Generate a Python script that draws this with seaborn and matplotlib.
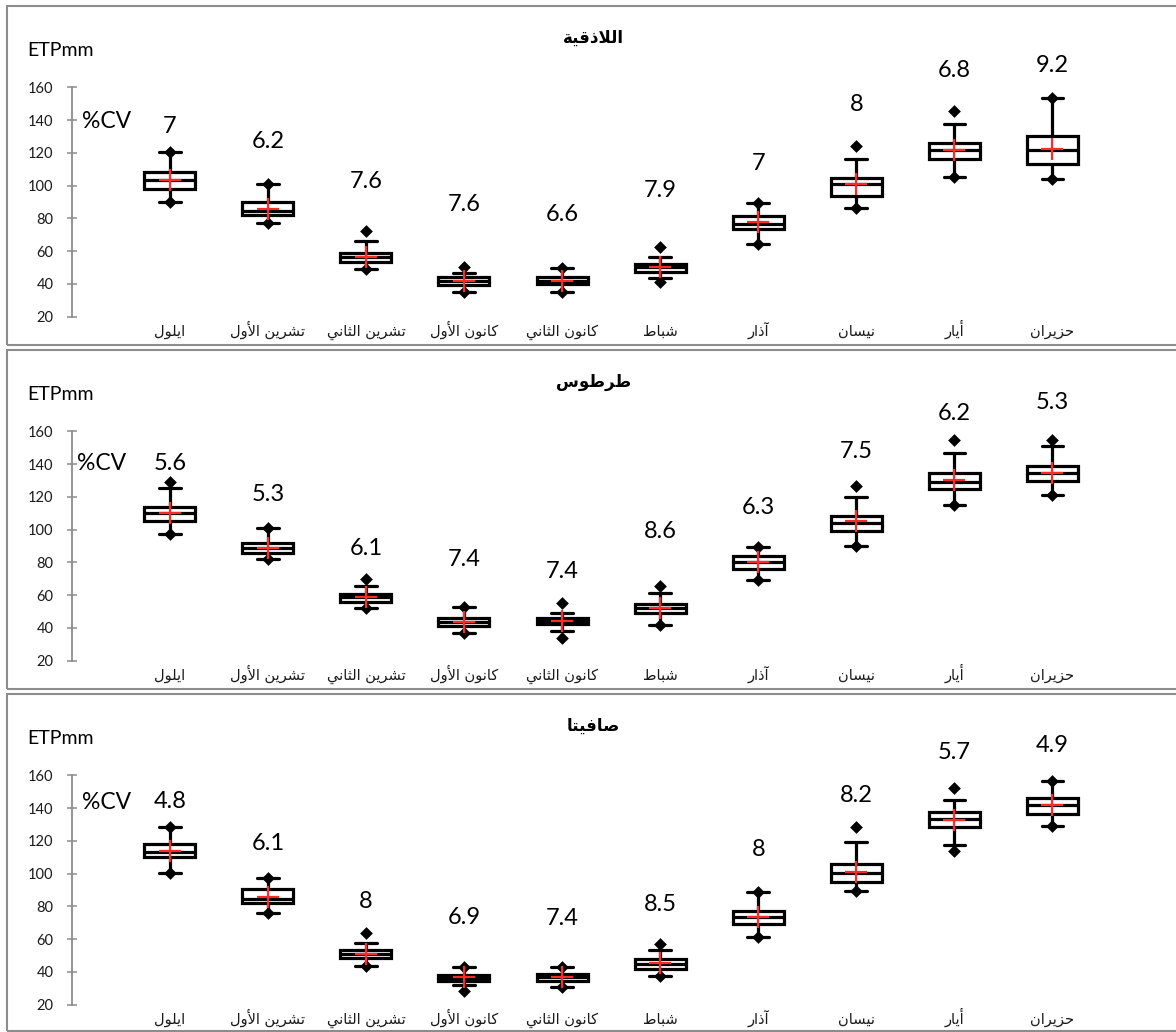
import numpy as np
import pandas as pd
import matplotlib
matplotlib.use("Agg")
import matplotlib.pyplot as plt
import seaborn as sns
from matplotlib.patches import Rectangle

# ---------------------------------------------------------------- data
months = ["ايلول", "تشرين الأول", "تشرين الثاني", "كانون الأول", "كانون الثاني",
          "شباط", "آذار", "نيسان", "أيار", "حزيران"]
stations = ["اللاذقية", "طرطوس", "صافيتا"]

# Latakia
lat_min = [89.8, 77.0, 49.0, 34.9, 34.9, 41.4, 64.2, 86.2, 105.1, 103.9]
lat_wlo = [89.8, 77.0, 49.0, 34.9, 34.9, 43.8, 64.2, 86.2, 105.1, 103.9]
lat_q1 = [98.0, 81.9, 53.2, 39.4, 39.8, 47.5, 73.4, 93.9, 116.1, 113.2]
lat_med = [103.4, 84.5, 56.7, 41.8, 42.0, 50.6, 76.6, 100.8, 121.6, 121.7]
lat_q3 = [108.1, 89.8, 59.1, 44.1, 44.4, 52.0, 81.5, 104.9, 125.8, 130.1]
lat_whi = [120.7, 100.8, 66.2, 46.5, 49.6, 56.7, 89.2, 116.1, 137.4, 153.7]
lat_max = [120.7, 100.8, 72.5, 50.6, 49.6, 62.7, 89.2, 124.4, 145.5, 153.7]
lat_mean = [103.4, 85.7, 56.7, 41.9, 42.0, 50.4, 78.0, 100.7, 121.6, 122.5]
lat_cv = [7, 6.2, 7.6, 7.6, 6.6, 7.9, 7, 8, 6.8, 9.2]

# Tartus
tar_min = [97.1, 82.1, 52.1, 36.9, 33.8, 42.0, 69.3, 89.8, 115.0, 121.0]
tar_wlo = [97.1, 82.1, 52.1, 36.9, 38.4, 42.0, 69.3, 89.8, 115.0, 121.0]
tar_q1 = [105.4, 85.6, 56.0, 41.3, 42.3, 49.2, 75.8, 99.3, 124.7, 129.6]
tar_med = [110.3, 88.6, 58.8, 43.9, 44.5, 52.1, 80.4, 104.2, 129.0, 134.6]
tar_q3 = [113.7, 91.8, 60.8, 46.0, 46.3, 54.7, 83.9, 108.3, 134.6, 138.7]
tar_whi = [125.1, 101.2, 65.8, 52.7, 49.3, 61.6, 89.6, 119.8, 147.0, 150.9]
tar_max = [129.2, 101.2, 69.9, 52.7, 55.0, 65.8, 89.6, 126.7, 154.9, 154.9]
tar_mean = [110.0, 89.0, 58.8, 43.9, 44.4, 52.1, 80.0, 105.0, 130.2, 134.6]
tar_cv = [5.6, 5.3, 6.1, 7.4, 7.4, 8.6, 6.3, 7.5, 6.2, 5.3]

# Safita
saf_min = [100.5, 75.8, 43.7, 28.5, 30.5, 37.3, 61.6, 89.4, 113.9, 129.0]
saf_wlo = [100.5, 75.8, 43.7, 32.2, 30.5, 37.3, 61.6, 89.4, 117.4, 129.0]
saf_q1 = [109.9, 82.3, 48.4, 34.6, 34.6, 41.9, 69.1, 94.7, 128.5, 136.3]
saf_med = [112.9, 84.7, 51.1, 36.4, 36.8, 45.0, 73.8, 100.2, 133.6, 141.7]
saf_q3 = [118.0, 90.6, 53.1, 38.3, 38.8, 48.0, 77.4, 106.0, 137.5, 146.2]
saf_whi = [128.2, 97.1, 57.6, 43.3, 42.9, 53.5, 89.0, 119.4, 144.8, 156.5]
saf_max = [128.2, 97.1, 64.0, 43.3, 42.9, 57.1, 89.0, 128.2, 152.3, 156.5]
saf_mean = [113.9, 85.9, 51.1, 36.6, 36.8, 45.3, 73.8, 101.2, 133.0, 141.7]
saf_cv = [4.8, 6.1, 8, 6.9, 7.4, 8.5, 8, 8.2, 5.7, 4.9]

# vertical placement of the CV labels (in ETP units)
lat_cv_y = [136.0, 126.8, 102.4, 88.2, 82.1, 97.3, 113.6, 149.2, 170.5, 173.6]
tar_cv_y = [140.3, 121.7, 88.2, 81.5, 74.4, 98.7, 113.6, 147.8, 170.8, 177.5]
saf_cv_y = [143.8, 118.4, 82.9, 73.2, 72.8, 81.3, 114.8, 147.8, 174.2, 178.3]

# ---------------------------------------------------------------- arabic shaping
_FORMS = {  # isolated, final, initial, medial
    "\u0627": (0xFE8D, 0xFE8E, None, None),
    "\u0623": (0xFE83, 0xFE84, None, None),
    "\u0622": (0xFE81, 0xFE82, None, None),
    "\u0628": (0xFE8F, 0xFE90, 0xFE91, 0xFE92),
    "\u0629": (0xFE93, 0xFE94, None, None),
    "\u062A": (0xFE95, 0xFE96, 0xFE97, 0xFE98),
    "\u062B": (0xFE99, 0xFE9A, 0xFE9B, 0xFE9C),
    "\u062D": (0xFEA1, 0xFEA2, 0xFEA3, 0xFEA4),
    "\u0630": (0xFEAB, 0xFEAC, None, None),
    "\u0631": (0xFEAD, 0xFEAE, None, None),
    "\u0632": (0xFEAF, 0xFEB0, None, None),
    "\u0633": (0xFEB1, 0xFEB2, 0xFEB3, 0xFEB4),
    "\u0634": (0xFEB5, 0xFEB6, 0xFEB7, 0xFEB8),
    "\u0635": (0xFEB9, 0xFEBA, 0xFEBB, 0xFEBC),
    "\u0637": (0xFEC1, 0xFEC2, 0xFEC3, 0xFEC4),
    "\u0641": (0xFED1, 0xFED2, 0xFED3, 0xFED4),
    "\u0642": (0xFED5, 0xFED6, 0xFED7, 0xFED8),
    "\u0643": (0xFED9, 0xFEDA, 0xFEDB, 0xFEDC),
    "\u0644": (0xFEDD, 0xFEDE, 0xFEDF, 0xFEE0),
    "\u0646": (0xFEE5, 0xFEE6, 0xFEE7, 0xFEE8),
    "\u0648": (0xFEED, 0xFEEE, None, None),
    "\u064A": (0xFEF1, 0xFEF2, 0xFEF3, 0xFEF4),
}
_LAM_ALEF = {"\u0627": (0xFEFB, 0xFEFC), "\u0623": (0xFEF7, 0xFEF8),
             "\u0622": (0xFEF5, 0xFEF6)}


def shape_arabic(text):
    """Contextual forms + right-to-left visual order for matplotlib."""
    units = []
    i = 0
    while i < len(text):
        ch = text[i]
        if ch == "\u0644" and i + 1 < len(text) and text[i + 1] in _LAM_ALEF:
            units.append(("LA", text[i + 1]))
            i += 2
        else:
            units.append((ch, None))
            i += 1

    def is_letter(u):
        return u[0] == "LA" or u[0] in _FORMS

    def joins_fwd(u):
        if u[0] == "LA":
            return False
        f = _FORMS.get(u[0])
        return f is not None and f[2] is not None

    out = []
    for k, u in enumerate(units):
        ch, extra = u
        if not is_letter(u):
            out.append(ch)
            continue
        prev_j = k > 0 and is_letter(units[k - 1]) and joins_fwd(units[k - 1])
        next_j = joins_fwd(u) and k + 1 < len(units) and is_letter(units[k + 1])
        if ch == "LA":
            iso, fin = _LAM_ALEF[extra]
            out.append(chr(fin if prev_j else iso))
            continue
        iso, fin, ini, med = _FORMS[ch]
        if prev_j and next_j:
            cp = med
        elif prev_j:
            cp = fin
        elif next_j:
            cp = ini
        else:
            cp = iso
        out.append(chr(cp))
    return "".join(reversed(out))


# ---------------------------------------------------------------- style
sns.set_theme(style="white")
plt.rcParams["font.family"] = ["Lato", "DejaVu Sans"]
plt.rcParams["text.color"] = "black"

W, H = 1176, 1032
fig = plt.figure(figsize=(W / 100, H / 100), dpi=100)

month_lbl = [shape_arabic(m) for m in months]

panels = [
    (stations[0], lat_min, lat_wlo, lat_q1, lat_med, lat_q3, lat_whi, lat_max, lat_mean, lat_cv, lat_cv_y),
    (stations[1], tar_min, tar_wlo, tar_q1, tar_med, tar_q3, tar_whi, tar_max, tar_mean, tar_cv, tar_cv_y),
    (stations[2], saf_min, saf_wlo, saf_q1, saf_med, saf_q3, saf_whi, saf_max, saf_mean, saf_cv, saf_cv_y),
]

step = 344.0
cv_tag_x = [82, 77, 82]
cv_tag_y = [122, 463.3, 802.7]
frame_col = "#8c8c8c"

for p, (name, vmin, wlo, q1, med, q3, whi, vmax, vmean, cv, cv_y) in enumerate(panels):
    off = step * p
    # panel frame
    top = 6 + off
    bot = min(345 + off, 1030.5)
    fig.add_artist(Rectangle((7 / W, 1 - bot / H), 1.2, (bot - top) / H,
                             transform=fig.transFigure, fill=False,
                             ec=frame_col, lw=1.5, clip_on=False))

    y160 = 87.3 + off
    y20 = 316.7 + off
    ax = fig.add_axes([71.7 / W, 1 - y20 / H, (1150.5 - 71.7) / W, (y20 - y160) / H])
    ax.set_facecolor("none")

    # boxes: the five summary values of each month give the box and whisker ends
    box_df = pd.DataFrame({
        "month": np.repeat(month_lbl, 5),
        "etp": np.column_stack([wlo, q1, med, q3, whi]).ravel(),
    })
    sns.boxplot(data=box_df, x="month", y="etp", order=month_lbl, whis=np.inf,
                width=0.52, color="white", linecolor="black", linewidth=2.3,
                ax=ax, capwidths=0.22)

    # extreme values
    sns.stripplot(x=month_lbl, y=vmax, order=month_lbl, jitter=False, marker="D",
                  size=6.5, color="black", linewidth=0, ax=ax, zorder=4)
    sns.stripplot(x=month_lbl, y=vmin, order=month_lbl, jitter=False, marker="D",
                  size=6.5, color="black", linewidth=0, ax=ax, zorder=4)

    # means
    sns.pointplot(x=month_lbl, y=vmean, order=month_lbl, color="#ff2a2a",
                  markers="+", linestyle="none", markersize=16,
                  markeredgewidth=1.6, errorbar=None, ax=ax, zorder=5)

    # coefficient of variation labels
    for i, (c, cy) in enumerate(zip(cv, cv_y)):
        ax.text(i, cy, f"{c:g}", ha="center", va="center", fontsize=17,
                color="black", clip_on=False)

    ax.set_xlim(-1, 10)
    ax.set_ylim(20, 160)
    ax.set_yticks(range(20, 161, 20))
    ax.set_xticks(range(len(month_lbl)))
    ax.set_xticklabels(month_lbl, family=["DejaVu Sans"])
    for lbl in ax.get_xticklabels():
        lbl.set_verticalalignment("baseline")
    ax.set_xlabel("")
    ax.set_ylabel("")
    for s in ("top", "right", "bottom"):
        ax.spines[s].set_visible(False)
    ax.spines["left"].set_color(frame_col)
    ax.spines["left"].set_linewidth(1.3)
    ax.tick_params(axis="y", direction="inout", length=7.2, width=1.1,
                   color=frame_col, labelsize=10.5, labelcolor="#1a1a1a", pad=9.6,
                   left=True)
    ax.tick_params(axis="x", length=0, pad=14, labelsize=10.5, labelcolor="#1a1a1a")
    ax.grid(False)

    fig.text(27 / W, 1 - (50 + off) / H, "ETPmm", ha="left", va="center",
             fontsize=14)
    fig.text(cv_tag_x[p] / W, 1 - cv_tag_y[p] / H, "%CV", ha="left", va="center",
             fontsize=16.5)
    fig.text(593.7 / W, 1 - (38 + off) / H, shape_arabic(name), ha="center",
             va="center", fontsize=12, fontweight="bold", family=["DejaVu Sans"])

fig.savefig("out.png", dpi=100, facecolor="white")
